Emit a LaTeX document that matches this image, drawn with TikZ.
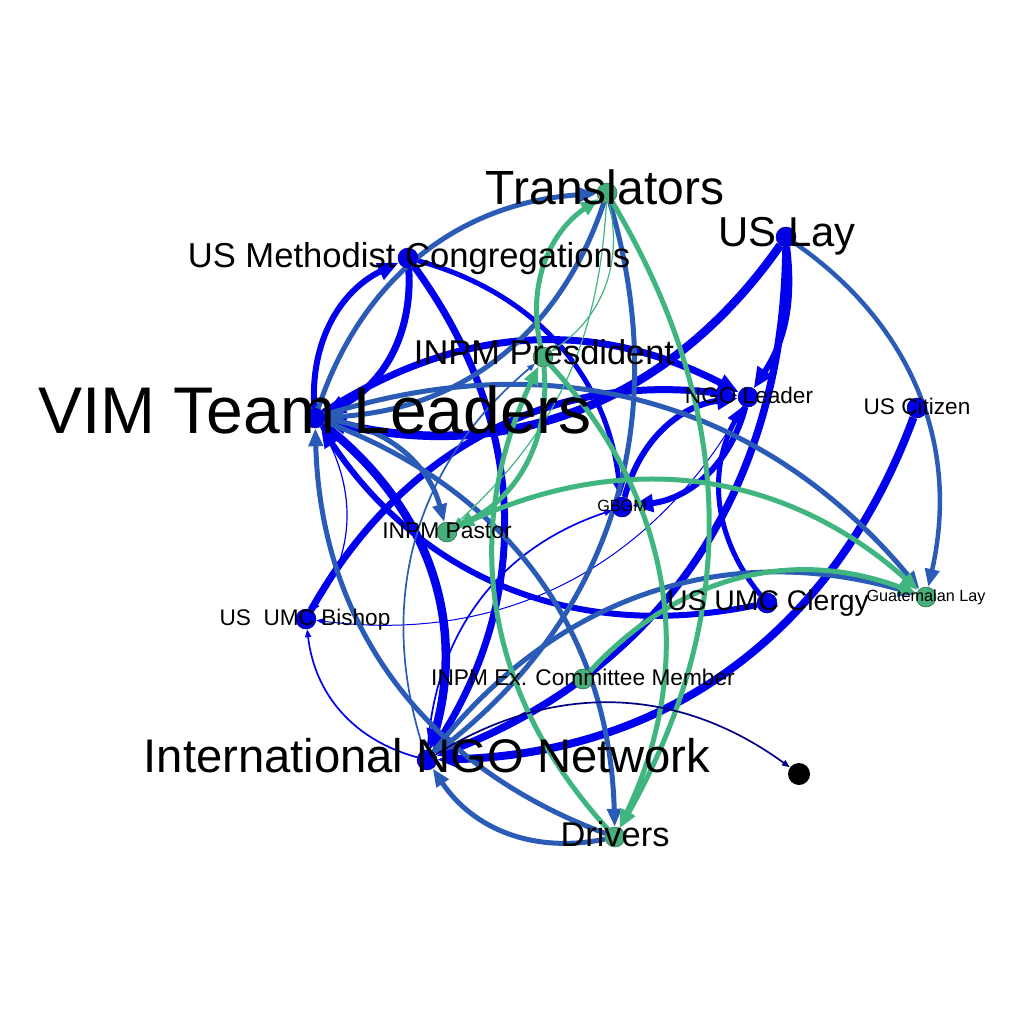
\documentclass[tikz,border=0pt]{standalone}
\usepackage{fontspec}
\setmainfont{Liberation Sans}
\usetikzlibrary{arrows.meta,backgrounds}

\definecolor{vblue}{HTML}{0000E6}
\definecolor{eblue}{HTML}{0000EE}
\definecolor{esteel}{HTML}{2A5BB7}
\definecolor{egreen}{HTML}{40B580}
\definecolor{vgreen}{HTML}{45AE7A}
\definecolor{enavy}{HTML}{000080}

\newcommand{\fs}[1]{\fontsize{#1}{#1}\selectfont}

\tikzset{
  vtx/.style={circle,inner sep=0pt,minimum size=20pt,line width=0.5pt},
  bv/.style={vtx,fill=vblue,draw=vblue!55!black},
  gv/.style={vtx,fill=vgreen,draw=vgreen!60!black},
  lab/.style={anchor=base,inner sep=0pt},
  be/.style={draw=eblue,line width=#1},
  se/.style={draw=esteel,line width=#1},
  ge/.style={draw=egreen,line width=#1},
  tipbig/.style={-{Triangle[length=21pt,width=17pt]}},
  tipmid/.style={-{Triangle[length=18pt,width=14pt]}},
  tipthin/.style={-{Triangle[length=8pt,width=6pt]}},
  cv/.style={bend left=#1},
  cv/.default=34
}

\begin{document}
\begin{tikzpicture}[x=1pt,y=-1pt]
\useasboundingbox (0,0) rectangle (1024,1024);

% vertices
\node[bv] (vim) at (315,418) {};
\node[gv] (tr) at (607,193) {};
\node[bv] (ul) at (786,237) {};
\node[bv] (mc) at (408,258) {};
\node[gv] (pr) at (543,357) {};
\node[bv] (nl) at (748,397) {};
\node[bv] (uc) at (917,408) {};
\node[bv] (gb) at (622,507) {};
\node[gv] (pa) at (447,532) {};
\node[bv] (cl) at (767,603) {};
\node[gv] (gl) at (926,597) {};
\node[gv] (ex) at (583,679) {};
\node[bv] (bi) at (306,619) {};
\node[bv] (nn) at (427,760) {};
\node[vtx,fill=black,minimum size=22pt] (bk) at (799,774) {};
\node[gv] (dr) at (615,837) {};

\begin{scope}[on background layer]
% blue ties
\draw[be=6pt,tipbig] (vim) to[cv] (mc);
\draw[be=7pt,tipbig] (mc) to[cv] (vim);
\draw[be=7pt,tipbig] (vim) to[cv=30] (nl);
\draw[be=8.5pt,tipbig] (ul) to[cv] (vim);
\draw[be=7pt,tipbig] (bi) to[cv] (nl);
\draw[be=7.5pt,tipbig] (ul) to[cv] (nn);
\draw[be=6pt,tipbig] (ul) to[cv=20] (nl);
\draw[be=5pt,tipmid] (mc) to[cv] (gb);
\draw[be=7pt,tipbig] (mc) to[cv] (nn);
\draw[be=8.5pt,tipbig] (vim) to[cv] (nn);
\draw[be=6pt,tipbig] (cl) to[cv] (vim);
\draw[be=8pt,tipbig] (uc) to[cv] (nn);
\draw[be=6pt,tipbig] (gb) to[cv] (nl);
\draw[be=6pt,tipbig] (nl) to[cv] (gb);
\draw[be=5pt,tipmid] (cl) to[cv] (nl);
\draw[be=1.2pt,tipthin] (vim) to[cv] (bi);
\draw[be=1.7pt,tipthin] (nn) to[cv] (bi);
\draw[be=1pt,tipthin] (nl) to[cv] (bi);
\draw[be=1.7pt,tipthin] (nn) to[cv] (gb);
% steel ties
\draw[se=5pt,tipmid] (vim) to[cv] (tr);
\draw[se=5pt,tipmid] (tr) to[cv] (vim);
\draw[se=5pt,tipmid] (tr) to[cv] (nn);
\draw[se=5pt,tipmid] (vim) to[cv] (dr);
\draw[se=5pt,tipmid] (dr) to[cv] (vim);
\draw[se=5pt,tipmid] (vim) to[cv] (pa);
\draw[se=5pt,tipmid] (vim) to[cv] (gl);
\draw[se=5pt,tipmid] (nn) to[cv] (gl);
\draw[se=5pt,tipmid] (dr) to[cv] (nn);
\draw[se=4.5pt,tipmid] (ul) to[cv] (gl);
\draw[se=1.7pt,tipthin] (nn) to[cv] (pr);
% green ties
\draw[ge=5pt,tipmid] (ex) to[cv] (gl);
\draw[ge=5pt,tipmid] (pa) to[cv] (gl);
\draw[ge=5pt,tipmid] (pr) to[cv] (pa);
\draw[ge=5pt,tipmid] (pr) to[cv] (tr);
\draw[ge=1.2pt,tipthin] (tr) to[cv] (pr);
\draw[ge=1.2pt,tipthin] (tr) to[cv=22] (pa);
\draw[ge=5pt,tipmid] (tr) to[cv=30] (dr);
\draw[ge=5pt,tipmid] (pr) to[cv] (dr);
\draw[ge=5pt,tipmid] (dr) to[cv] (pr);
% to the unnamed actor
\draw[draw=enavy,line width=1.7pt,tipthin] (nn) to[cv] (bk);
\end{scope}

% labels
\node[lab,font=\fs{66}] (vimlab) at (315,433) {VIM Team Leaders};
\node[lab,font=\fs{48}] (trlab) at (605,205) {Translators};
\node[lab,font=\fs{41.8}] (ullab) at (787,247) {US Lay};
\node[lab,font=\fs{34.6}] (mclab) at (409,267) {US Methodist Congregations};
\node[lab,font=\fs{34.4}] (prlab) at (544,364) {INPM Presdident};
\node[lab,font=\fs{22.6}] (nllab) at (749,403) {NGO Leader};
\node[lab,font=\fs{22.6}] (uclab) at (917,414) {US Citizen};
\node[lab,font=\fs{16.2}] (gblab) at (622,511) {GBGM};
\node[lab,font=\fs{22.8}] (palab) at (447,538) {INPM Pastor};
\node[lab,font=\fs{28.4}] (cllab) at (768,610) {US UMC Clergy};
\node[lab,font=\fs{16.2}] (gllab) at (926,601) {Guatemalan Lay};
\node[lab,font=\fs{22.6}] (bilab) at (305,625) {US\ \ UMC Bishop};
\node[lab,font=\fs{22.7}] (exlab) at (583,685) {INPM Ex. Committee Member};
\node[lab,font=\fs{47.2}] (nnlab) at (427,772) {International NGO Network};
\node[lab,font=\fs{34.4}] (drlab) at (615,846) {Drivers};
\end{tikzpicture}
\end{document}
